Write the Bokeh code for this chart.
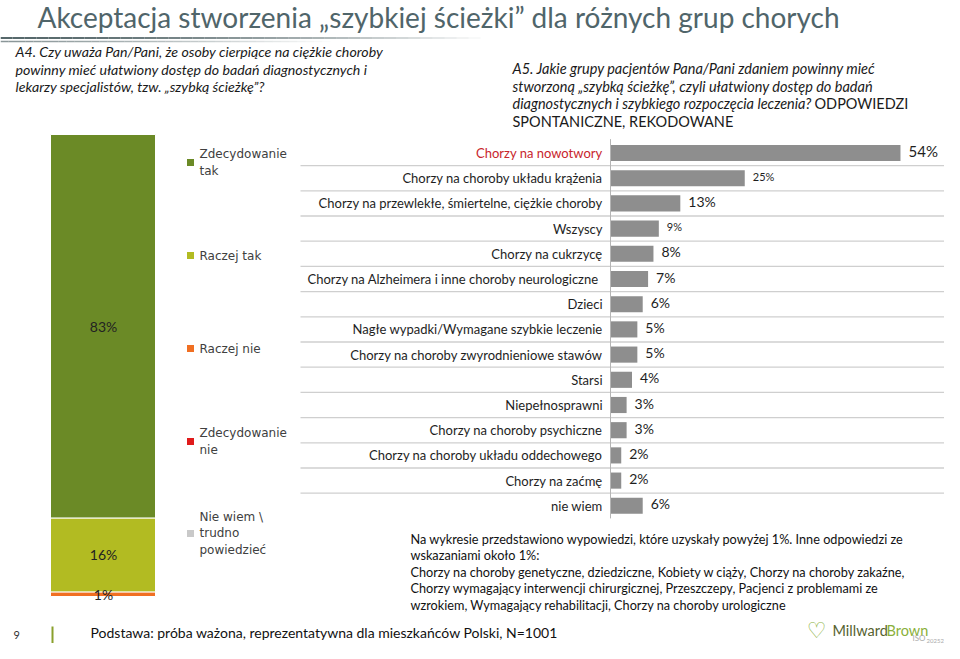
from bokeh.plotting import figure
from bokeh.models import Range1d
from bokeh.core.properties import value
from bokeh.embed import file_html
from bokeh.resources import INLINE

# ---------------- data ----------------
title = "Akceptacja stworzenia „szybkiej ścieżki” dla różnych grup chorych"

q4_lines = ["A4. Czy uważa Pan/Pani, że osoby cierpiące na ciężkie choroby",
            "powinny mieć ułatwiony dostęp do badań diagnostycznych i",
            "lekarzy specjalistów, tzw. „szybką ścieżkę”?"]
q5_lines = ["A5. Jakie grupy pacjentów Pana/Pani zdaniem powinny mieć",
            "stworzoną „szybką ścieżkę”, czyli ułatwiony dostęp do badań",
            "diagnostycznych i szybkiego rozpoczęcia leczenia?"]
q5_upright = ["ODPOWIEDZI", "SPONTANICZNE, REKODOWANE"]

answers = ["Zdecydowanie tak", "Raczej tak", "Raczej nie", "Zdecydowanie nie",
           "Nie wiem \\ trudno powiedzieć"]
legend_labels = ["Zdecydowanie\ntak", "Raczej tak", "Raczej nie", "Zdecydowanie\nnie",
                 "Nie wiem \\\ntrudno\npowiedzieć"]
shares = [83, 16, 1, 0, 0]

groups = ["Chorzy na nowotwory",
          "Chorzy na choroby układu krążenia",
          "Chorzy na przewlekłe, śmiertelne, ciężkie choroby",
          "Wszyscy",
          "Chorzy na cukrzycę",
          "Chorzy na  Alzheimera i inne choroby neurologiczne",
          "Dzieci",
          "Nagłe wypadki/Wymagane szybkie leczenie",
          "Chorzy na choroby zwyrodnieniowe stawów",
          "Starsi",
          "Niepełnosprawni",
          "Chorzy na choroby psychiczne",
          "Chorzy na choroby układu oddechowego",
          "Chorzy na zaćmę",
          "nie wiem"]
group_values = [54, 25, 13, 9, 8, 7, 6, 5, 5, 4, 3, 3, 2, 2, 6]

note_lines = ["Na wykresie przedstawiono wypowiedzi, które uzyskały powyżej 1%. Inne odpowiedzi ze",
              "wskazaniami około 1%:",
              "Chorzy na choroby genetyczne, dziedziczne, Kobiety w ciąży, Chorzy na choroby zakaźne,",
              "Chorzy wymagający interwencji chirurgicznej, Przeszczepy, Pacjenci z problemami ze",
              "wzrokiem, Wymagający rehabilitacji, Chorzy na choroby urologiczne"]
base_text = "Podstawa: próba ważona, reprezentatywna dla mieszkańców Polski, N=1001"
page_no = "9"

# ---------------- styles ----------------
answer_colors = ["#6b8a26", "#b2bb22", "#f06f22", "#e01b1b", "#c9c9c9"]
bar_grey = "#8e8e8e"
FONT = value("Lato")

W, H = 944, 643
p = figure(width=W, height=H, output_backend="svg", toolbar_location=None,
           x_axis_location=None, y_axis_location=None,
           x_range=Range1d(0, W), y_range=Range1d(H, 0),
           min_border=0, min_border_left=0, min_border_right=0,
           min_border_top=0, min_border_bottom=0)
p.outline_line_color = None
p.xgrid.visible = False
p.ygrid.visible = False
p.background_fill_color = "white"
p.border_fill_color = "white"

# ranges for the horizontal bar chart (percent on x, row index on y)
px_per_pct = 5.37
zero_x = 610
p.extra_x_ranges = {"pct": Range1d((0 - zero_x) / px_per_pct, (W - zero_x) / px_per_pct)}
row0, pitch = 152.5, 25.2
# stacked bar: 0% at y=596, 100% at y=134
s0, s100 = 596, 134
spp = (s0 - s100) / 100.0
p.extra_y_ranges = {
    "row": Range1d((H - row0) / pitch, (0 - row0) / pitch),
    "stack": Range1d((s0 - H) / spp, s0 / spp),
}

# ---------------- title ----------------
p.text(x=[37], y=[16], text=[title], text_font=FONT, text_font_size="28px",
       text_color="#50656a", text_baseline="middle", text_align="left")
n = 40
xs = [i * 480 / n for i in range(n)]
xe = [(i + 1) * 480 / n for i in range(n)]
p.segment(x0=xs, x1=xe, y0=[37.5] * n, y1=[37.5] * n, line_color="#56686b",
          line_width=2, line_alpha=[max(0.0, 1 - (i / n) ** 1.6) for i in range(n)])
xs2 = [i * 330 / n for i in range(n)]
xe2 = [(i + 1) * 330 / n for i in range(n)]
p.segment(x0=xs2, x1=xe2, y0=[41] * n, y1=[41] * n, line_color="#7d8b8d",
          line_width=1.5, line_alpha=[max(0.0, 0.9 - 0.9 * (i / n) ** 1.3) for i in range(n)])

# ---------------- questions ----------------
p.text(x=[15] * len(q4_lines), y=[51 + 17.6 * i for i in range(len(q4_lines))], text=q4_lines,
       text_font=FONT, text_font_style="italic", text_font_size="14.2px",
       text_color="#1a1a1a", text_baseline="middle")
p.text(x=[512] * len(q5_lines), y=[68 + 17.6 * i for i in range(len(q5_lines))], text=q5_lines,
       text_font=FONT, text_font_style="italic", text_font_size="14.5px",
       text_color="#1a1a1a", text_baseline="middle")
p.text(x=[814, 512], y=[68 + 17.6 * 2, 68 + 17.6 * 3], text=q5_upright,
       text_font=FONT, text_font_size="14.5px", text_color="#1a1a1a", text_baseline="middle")

# ---------------- stacked bar (A4) ----------------
bottoms, tops, cols = [], [], []
acc = 0
for i in reversed(range(len(shares))):
    if shares[i] > 0:
        bottoms.append(acc)
        tops.append(acc + shares[i])
        cols.append(answer_colors[i])
    acc += shares[i]
p.vbar(x=[102.5] * len(tops), width=105, bottom=bottoms, top=tops, fill_color=cols,
       line_color="white", line_width=1, y_range_name="stack")
lab_y = [(b + t) / 2 for b, t in zip(bottoms, tops)]
lab_t = [f"{t - b}%" for b, t in zip(bottoms, tops)]
p.text(x=[103] * len(lab_y), y=lab_y, text=lab_t, y_range_name="stack",
       text_font=FONT, text_font_size="14px", text_color="#222222",
       text_align="center", text_baseline="middle")

# legend
leg_y = [162, 255, 348, 441, 533]
p.scatter(x=[190] * len(leg_y), y=leg_y, marker="square", size=7,
          fill_color=answer_colors, line_color=None)
p.text(x=[199] * len(leg_y), y=leg_y, text=legend_labels, text_font=value("DejaVu Sans"),
       text_font_size="12px", text_color="#404040", text_baseline="middle",
       text_line_height=1.17)

# ---------------- horizontal bars (A5) ----------------
rows = list(range(len(groups)))
p.segment(x0=[300] * (len(rows) - 1), x1=[W] * (len(rows) - 1),
          y0=[r + 0.5 for r in rows[:-1]], y1=[r + 0.5 for r in rows[:-1]],
          line_color="#cfcfcf", line_width=1.3, y_range_name="row")
p.hbar(y=rows, left=0, right=group_values, height=0.64, fill_color=bar_grey,
       line_color=None, x_range_name="pct", y_range_name="row")
p.segment(x0=[0], x1=[0], y0=[-0.55], y1=[14.5], line_color="#b5b5b5", line_width=1,
          x_range_name="pct", y_range_name="row")
label_colors = ["#c8252c"] + ["#1e1e1e"] * (len(groups) - 1)
p.text(x=[0] * len(rows), y=rows, text=groups, x_offset=-8, text_font=FONT,
       text_font_size="13px", text_color=label_colors, text_align="right",
       text_baseline="middle", x_range_name="pct", y_range_name="row")
val_sizes = ["15px", "11px", "14px", "11px"] + ["14px"] * (len(groups) - 4)
p.text(x=group_values, y=rows, text=[f"{v}%" for v in group_values], x_offset=8, y_offset=-2,
       text_font=FONT, text_font_size=val_sizes, text_color="#1e1e1e",
       text_baseline="middle", x_range_name="pct", y_range_name="row")

# ---------------- footer ----------------
p.text(x=[410] * len(note_lines), y=[538 + 16.6 * i for i in range(len(note_lines))],
       text=note_lines, text_font=FONT, text_font_size="12.7px", text_color="#111111",
       text_baseline="middle")
p.text(x=[90], y=[632], text=[base_text], text_font=FONT, text_font_size="14px",
       text_color="#111111", text_baseline="middle")
p.text(x=[13], y=[634], text=[page_no], text_font=FONT, text_font_size="11px",
       text_color="#333333", text_baseline="middle")
p.segment(x0=[52], x1=[52], y0=[626], y1=[643], line_color="#8aa02c", line_width=2)

# logo
p.text(x=[816], y=[630], text=["♡"], text_font=value("DejaVu Sans"), text_font_style="bold",
       text_font_size="22px", text_color="#8ab03a", text_align="center", text_baseline="middle")
p.text(x=[832], y=[630], text=["Millward"], text_font=FONT, text_font_size="14.5px",
       text_color="#56622f", text_baseline="middle")
p.text(x=[886], y=[630], text=["Brown"], text_font=FONT, text_font_size="14.5px",
       text_color="#8ab03a", text_baseline="middle")
p.text(x=[912], y=[642], text=["ISO"], text_font=FONT, text_font_size="8px",
       text_color="#aaaaaa", text_baseline="bottom")
p.text(x=[926], y=[642], text=["20252"], text_font=FONT, text_font_size="6px",
       text_color="#aaaaaa", text_baseline="bottom")

open("out.html", "w").write(file_html(p, INLINE))
